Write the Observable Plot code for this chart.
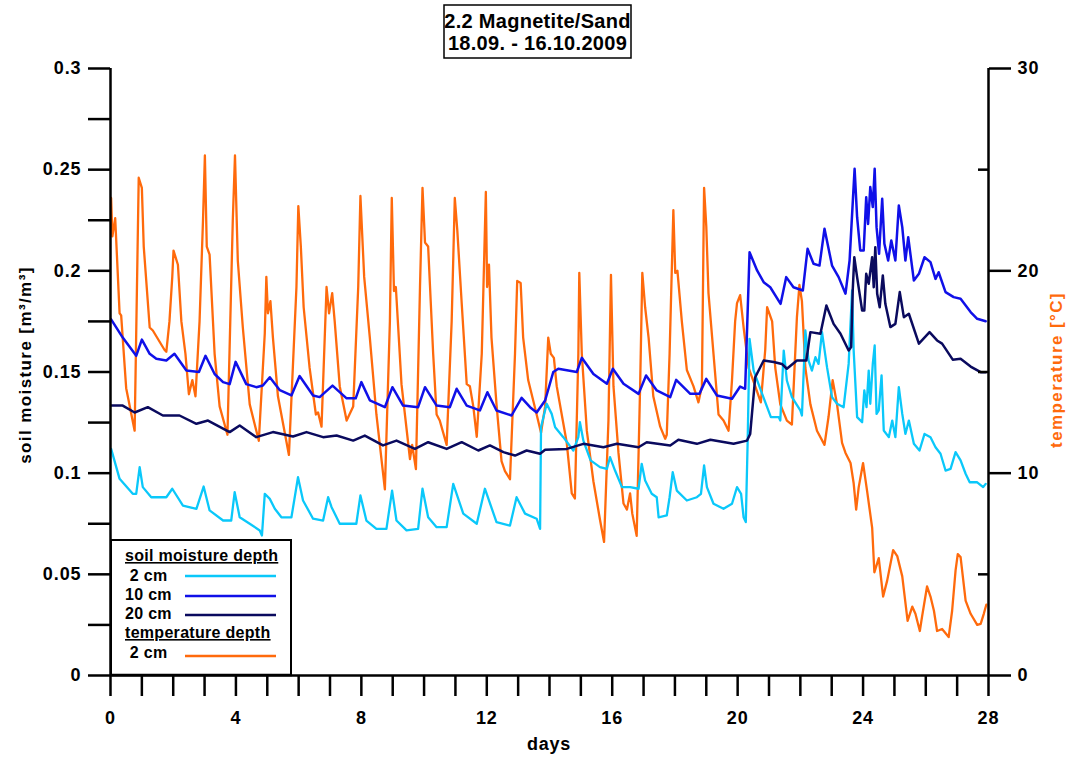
<!DOCTYPE html>
<html><head><meta charset="utf-8">
<script src="https://cdn.jsdelivr.net/npm/d3@7"></script>
<script src="https://cdn.jsdelivr.net/npm/@observablehq/plot@0.6"></script>
<style>
html,body{margin:0;padding:0;background:#fff;overflow:hidden;}
#wrap{position:relative;width:1072px;height:758px;font-family:"Liberation Sans",Arial,sans-serif;}
#wrap svg text{letter-spacing:0.9px;}
#overlay{position:absolute;left:0;top:0;pointer-events:none;}
</style></head><body><div id="wrap"></div>
<script>
// ---- data (day, value) ----
const temp2cm = [[0.02,23.6],[0.06,21.7],[0.15,22.6],[0.29,17.9],[0.34,17.8],[0.50,14.2],[0.77,12.1],[0.90,24.6],[1.00,24.1],[1.06,21.2],[1.25,17.2],[1.35,17.05],[1.72,16.1],[1.78,16.0],[1.88,17.5],[1.97,19.7],[2.01,21.0],[2.15,20.3],[2.26,17.5],[2.39,15.9],[2.50,13.9],[2.61,14.6],[2.71,13.8],[2.84,17.5],[2.95,22.5],[3.01,25.7],[3.07,21.2],[3.16,20.8],[3.32,15.9],[3.48,13.3],[3.73,11.9],[3.90,22.5],[3.97,25.7],[4.06,20.5],[4.22,17.2],[4.44,13.4],[4.73,11.6],[4.92,16.9],[4.97,19.7],[5.02,17.9],[5.10,18.5],[5.18,16.7],[5.34,13.8],[5.69,10.9],[5.93,19.2],[5.99,23.2],[6.07,21.2],[6.16,18.2],[6.35,15.2],[6.55,12.9],[6.62,13.0],[6.73,12.3],[6.89,19.2],[6.97,17.9],[7.07,18.9],[7.15,17.5],[7.31,14.3],[7.53,12.6],[7.74,13.3],[7.90,19.2],[7.97,23.7],[8.09,19.7],[8.27,16.7],[8.48,12.9],[8.75,9.2],[8.91,17.5],[8.97,23.6],[9.04,19.0],[9.10,19.2],[9.28,14.4],[9.55,10.7],[9.62,11.4],[9.74,10.2],[9.87,19.2],[9.95,24.1],[10.03,21.4],[10.13,21.2],[10.29,15.9],[10.40,12.9],[10.50,12.6],[10.72,11.4],[10.88,17.5],[10.98,23.6],[11.06,22.0],[11.20,18.4],[11.36,14.4],[11.46,14.3],[11.57,13.3],[11.68,11.8],[11.84,15.9],[11.97,23.9],[12.01,19.2],[12.07,20.3],[12.15,16.7],[12.31,13.4],[12.47,10.6],[12.58,10.1],[12.74,9.7],[12.90,15.9],[12.97,19.5],[13.08,19.4],[13.16,16.7],[13.32,14.6],[13.59,12.9],[13.73,12.0],[13.86,13.3],[13.96,16.7],[14.04,15.9],[14.14,15.7],[14.23,14.3],[14.39,12.9],[14.55,11.5],[14.71,9.0],[14.81,8.75],[14.92,15.9],[14.95,19.9],[15.03,15.9],[15.19,12.1],[15.40,9.6],[15.61,7.7],[15.74,6.6],[15.88,12.6],[15.96,19.8],[16.04,14.3],[16.20,11.0],[16.36,8.5],[16.47,8.2],[16.57,9.0],[16.64,8.0],[16.78,6.9],[16.89,14.3],[16.96,19.9],[17.05,18.2],[17.16,16.7],[17.31,13.8],[17.53,12.3],[17.69,11.7],[17.74,11.9],[17.83,15.9],[17.95,23.0],[18.01,19.9],[18.08,20.0],[18.22,17.5],[18.38,15.1],[18.59,14.3],[18.75,13.5],[18.86,14.3],[18.93,24.1],[19.00,22.2],[19.07,18.9],[19.23,15.9],[19.39,12.9],[19.55,12.6],[19.71,12.1],[19.82,14.6],[19.92,17.5],[19.98,18.4],[20.08,18.8],[20.19,17.2],[20.35,15.2],[20.56,14.3],[20.74,13.5],[20.88,16.1],[20.94,18.2],[21.10,17.5],[21.20,15.2],[21.36,13.4],[21.57,12.6],[21.73,12.4],[21.89,17.7],[21.97,19.3],[22.05,18.5],[22.16,15.2],[22.32,13.4],[22.53,12.1],[22.77,11.4],[22.90,12.8],[23.03,14.6],[23.17,13.4],[23.33,11.5],[23.44,11.0],[23.60,10.5],[23.70,9.5],[23.78,8.2],[23.86,9.3],[24.00,10.5],[24.13,9.1],[24.29,7.3],[24.36,5.1],[24.50,5.8],[24.64,3.9],[24.77,4.7],[24.96,6.2],[25.09,5.9],[25.25,4.9],[25.42,2.7],[25.57,3.4],[25.67,3.05],[25.81,2.2],[25.88,2.9],[26.04,4.4],[26.15,3.9],[26.26,3.2],[26.36,2.2],[26.52,2.3],[26.73,1.9],[26.84,3.2],[26.95,5.2],[27.02,6.0],[27.11,5.85],[27.27,3.7],[27.43,3.05],[27.64,2.5],[27.75,2.55],[27.85,3.05],[27.93,3.5]];

const moist2cm = [[0.02,0.112],[0.29,0.0972],[0.71,0.0898],[0.82,0.0898],[0.93,0.103],[1.03,0.0931],[1.30,0.0881],[1.78,0.0881],[1.97,0.0923],[2.31,0.084],[2.74,0.0824],[2.97,0.0934],[3.16,0.0816],[3.59,0.0766],[3.85,0.0766],[3.96,0.0906],[4.12,0.0782],[4.44,0.075],[4.76,0.0717],[4.83,0.0692],[4.92,0.0898],[5.08,0.0873],[5.24,0.0824],[5.45,0.0782],[5.77,0.0782],[5.98,0.098],[6.14,0.0865],[6.46,0.0775],[6.78,0.0766],[6.94,0.0881],[7.05,0.0832],[7.31,0.075],[7.84,0.075],[7.97,0.089],[8.16,0.0766],[8.48,0.0725],[8.80,0.0725],[8.98,0.0914],[9.12,0.0766],[9.44,0.0717],[9.81,0.0725],[9.95,0.0923],[10.13,0.0782],[10.40,0.0733],[10.72,0.0733],[10.93,0.0947],[11.25,0.080],[11.68,0.075],[11.94,0.0923],[12.31,0.0758],[12.74,0.0741],[12.95,0.0881],[13.22,0.080],[13.59,0.0775],[13.70,0.0725],[13.73,0.1227],[13.91,0.1343],[14.07,0.1293],[14.18,0.1227],[14.44,0.1178],[14.76,0.1112],[14.92,0.1178],[14.97,0.1252],[15.08,0.1161],[15.31,0.1063],[15.61,0.103],[15.83,0.1021],[15.93,0.1079],[16.09,0.1013],[16.31,0.0931],[16.57,0.0931],[16.84,0.0923],[16.94,0.1046],[17.05,0.0964],[17.26,0.0898],[17.42,0.0881],[17.48,0.0782],[17.74,0.0791],[17.83,0.0881],[17.93,0.1005],[18.06,0.0914],[18.38,0.0865],[18.70,0.0881],[18.83,0.0898],[18.93,0.1038],[19.02,0.0931],[19.23,0.0849],[19.55,0.0824],[19.82,0.0849],[19.98,0.0931],[20.11,0.0898],[20.19,0.0782],[20.26,0.0758],[20.32,0.1161],[20.38,0.1664],[20.51,0.1507],[20.74,0.1409],[21.06,0.1277],[21.31,0.1277],[21.36,0.126],[21.47,0.1606],[21.57,0.1458],[21.73,0.1376],[22.00,0.131],[22.05,0.1285],[22.16,0.1705],[22.26,0.1557],[22.37,0.1507],[22.48,0.1573],[22.58,0.154],[22.69,0.1697],[22.85,0.1524],[23.01,0.1376],[23.17,0.1343],[23.38,0.1326],[23.54,0.154],[23.65,0.1903],[23.70,0.1606],[23.81,0.1277],[23.97,0.1252],[24.04,0.1409],[24.11,0.1326],[24.18,0.1507],[24.23,0.1343],[24.31,0.154],[24.37,0.1631],[24.43,0.1293],[24.50,0.131],[24.59,0.1483],[24.66,0.1211],[24.82,0.1178],[24.93,0.126],[25.03,0.1178],[25.14,0.1425],[25.25,0.1293],[25.35,0.1194],[25.46,0.126],[25.62,0.1145],[25.80,0.1112],[25.96,0.1194],[26.15,0.1178],[26.31,0.1128],[26.47,0.1096],[26.63,0.1013],[26.79,0.1021],[26.95,0.1104],[27.11,0.1063],[27.27,0.0997],[27.40,0.0955],[27.64,0.0955],[27.83,0.0931],[27.91,0.0947]];

const moist10cm = [[0.02,0.176],[0.39,0.167],[0.82,0.158],[1.00,0.166],[1.25,0.159],[1.46,0.1565],[1.78,0.1557],[2.04,0.159],[2.42,0.1507],[2.82,0.150],[3.03,0.158],[3.32,0.149],[3.59,0.145],[3.80,0.144],[3.99,0.155],[4.33,0.144],[4.65,0.1425],[4.86,0.1433],[5.08,0.1474],[5.40,0.141],[5.77,0.1384],[6.03,0.148],[6.46,0.1384],[6.67,0.1376],[7.08,0.1433],[7.53,0.137],[7.82,0.137],[8.00,0.145],[8.27,0.136],[8.75,0.1326],[8.99,0.1425],[9.33,0.1334],[9.81,0.1326],[10.03,0.1425],[10.40,0.1334],[10.82,0.1326],[11.04,0.1417],[11.36,0.1334],[11.78,0.131],[12.02,0.140],[12.31,0.131],[12.79,0.1285],[13.11,0.1372],[13.38,0.1326],[13.59,0.130],[13.86,0.1359],[14.12,0.150],[14.28,0.1516],[14.87,0.150],[15.03,0.157],[15.40,0.149],[15.83,0.1442],[16.02,0.1516],[16.36,0.1442],[16.84,0.1392],[17.08,0.1483],[17.42,0.1409],[17.85,0.1376],[18.04,0.1461],[18.49,0.1392],[18.78,0.1392],[19.00,0.1466],[19.34,0.1384],[19.82,0.1368],[20.08,0.1428],[20.24,0.1417],[20.38,0.2092],[20.62,0.2002],[20.83,0.1944],[21.04,0.1919],[21.37,0.1837],[21.55,0.1969],[21.78,0.1919],[22.08,0.1903],[22.23,0.2109],[22.42,0.2035],[22.61,0.2026],[22.77,0.2208],[23.01,0.2026],[23.22,0.1969],[23.44,0.1887],[23.57,0.2051],[23.68,0.2364],[23.73,0.2504],[23.81,0.2265],[23.91,0.2101],[24.02,0.2101],[24.10,0.2364],[24.16,0.2232],[24.23,0.2414],[24.31,0.2315],[24.37,0.2504],[24.43,0.2216],[24.51,0.2084],[24.61,0.2356],[24.68,0.2134],[24.80,0.2051],[24.90,0.215],[25.03,0.2051],[25.14,0.2323],[25.25,0.2216],[25.35,0.2051],[25.44,0.2166],[25.62,0.1952],[25.78,0.1985],[25.96,0.2067],[26.15,0.2043],[26.31,0.196],[26.41,0.1993],[26.63,0.1895],[26.89,0.187],[27.11,0.1862],[27.43,0.1796],[27.64,0.1763],[27.91,0.1751]];

const moist20cm = [[0.02,0.1334],[0.39,0.1334],[0.77,0.130],[1.19,0.1326],[1.67,0.1285],[2.20,0.1285],[2.74,0.1244],[3.11,0.126],[3.80,0.1203],[4.12,0.1236],[4.65,0.1178],[5.18,0.1203],[5.82,0.1181],[6.25,0.1203],[6.78,0.1178],[7.21,0.1186],[7.74,0.1161],[8.11,0.1186],[8.69,0.1137],[9.12,0.1161],[9.71,0.112],[10.13,0.1153],[10.72,0.112],[11.20,0.1153],[11.73,0.1112],[12.10,0.1137],[12.53,0.1104],[12.90,0.1087],[13.27,0.1112],[13.70,0.1096],[13.86,0.1116],[14.55,0.112],[15.08,0.1145],[15.72,0.1128],[16.15,0.1145],[16.84,0.1128],[17.10,0.1153],[17.85,0.1137],[18.11,0.1165],[18.70,0.1145],[19.13,0.1165],[19.87,0.1145],[20.30,0.1161],[20.40,0.1194],[20.56,0.1474],[20.83,0.1557],[21.15,0.1549],[21.41,0.154],[21.57,0.1516],[21.89,0.1557],[22.19,0.1557],[22.32,0.1697],[22.64,0.1689],[22.83,0.1829],[23.06,0.1738],[23.28,0.1689],[23.54,0.1606],[23.62,0.1623],[23.67,0.1903],[23.72,0.2067],[23.81,0.1969],[23.97,0.1804],[24.04,0.1804],[24.10,0.1985],[24.18,0.1936],[24.29,0.2067],[24.34,0.1919],[24.39,0.2117],[24.45,0.1887],[24.53,0.182],[24.63,0.1977],[24.71,0.1837],[24.87,0.1722],[25.03,0.1738],[25.17,0.1895],[25.30,0.1771],[25.46,0.1788],[25.78,0.164],[26.12,0.1697],[26.36,0.1656],[26.52,0.164],[26.86,0.1561],[27.11,0.1565],[27.43,0.1527],[27.75,0.1499],[27.91,0.1499]];

// ---- axes / ticks ----
const moistureTicks = [0, 0.05, 0.1, 0.15, 0.2, 0.25, 0.3];
const moistureMinor = [0.025, 0.075, 0.125, 0.175, 0.225, 0.275];
const tempTicks = [0, 10, 20, 30];
const tempMinor = [5, 15, 25];
const dayTicks = [0, 4, 8, 12, 16, 20, 24, 28];
const dayMinor = d3.range(0, 29).filter(d => d % 4 !== 0);
const tempToMoisture = 0.01; // 30 °C on right axis aligns with 0.3 m³/m³

const colors = {c2: "#0ac8fa", c10: "#1010e8", c20: "#0a0a5e", temp: "#ff6a0c"};

const font = "Liberation Sans, Arial, sans-serif";
const chart = Plot.plot({
  width: 1072, height: 758,
  marginLeft: 110, marginRight: 84, marginTop: 68, marginBottom: 83,
  style: {fontFamily: font, fontSize: "18px", fontWeight: "bold", color: "#000", background: "#fff"},
  x: {domain: [0, 28]},
  y: {domain: [0, 0.3]},
  marks: [
    Plot.line(temp2cm, {x: d => d[0], y: d => d[1] * tempToMoisture, stroke: colors.temp, strokeWidth: 2.3}),
    Plot.line(moist2cm, {x: d => d[0], y: d => d[1], stroke: colors.c2, strokeWidth: 2.3}),
    Plot.line(moist10cm, {x: d => d[0], y: d => d[1], stroke: colors.c10, strokeWidth: 2.5}),
    Plot.line(moist20cm, {x: d => d[0], y: d => d[1], stroke: colors.c20, strokeWidth: 2.5}),
    Plot.ruleX([0], {stroke: "#000", strokeWidth: 2.5}),
    Plot.ruleX([28], {stroke: "#000", strokeWidth: 2.5}),
    Plot.ruleY([0], {stroke: "#000", strokeWidth: 2.5}),
    Plot.axisY(moistureTicks, {anchor: "left", tickSize: 22, tickPadding: 7, strokeWidth: 2.5, label: null, tickFormat: d => String(d)}),
    Plot.axisY(moistureMinor, {anchor: "left", tickSize: 22, strokeWidth: 2.5, text: null, label: null}),
    Plot.axisY(tempTicks.map(t => t * tempToMoisture), {anchor: "right", tickSize: 22, tickPadding: 7, strokeWidth: 2.5, label: null, tickFormat: d => String(Math.round(d / tempToMoisture))}),
    Plot.axisY(tempMinor.map(t => t * tempToMoisture), {anchor: "right", tickSize: -11, strokeWidth: 2.5, text: null, label: null}),
    Plot.axisX(dayTicks, {tickSize: 21, tickPadding: 15, strokeWidth: 2.5, label: null}),
    Plot.axisX(dayMinor, {tickSize: 21, strokeWidth: 2.5, text: null, label: null})
  ]
});
const wrap = document.getElementById("wrap");
wrap.appendChild(chart);

// ---- annotations: title, axis titles, legend ----
const legendEntries = [
  {type: "head", text: "soil moisture depth", y: 561},
  {type: "item", text: "\u00a02 cm", y: 581, ly: 576, color: colors.c2},
  {type: "item", text: "10 cm", y: 600, ly: 596, color: colors.c10},
  {type: "item", text: "20 cm", y: 619, ly: 615, color: colors.c20},
  {type: "head", text: "temperature depth", y: 638},
  {type: "item", text: "\u00a02 cm", y: 658, ly: 656, color: colors.temp}
];
const ov = d3.select(wrap).append("svg").attr("id", "overlay")
  .attr("width", 1072).attr("height", 758)
  .style("font-family", font).style("font-weight", "bold");
ov.append("rect").attr("x", 444).attr("y", 5).attr("width", 187).attr("height", 53)
  .attr("fill", "#fff").attr("stroke", "#000").attr("stroke-width", 1.5);
ov.append("text").attr("x", 537.5).attr("y", 28).attr("text-anchor", "middle").attr("font-size", 20).style("letter-spacing", "0.3px").text("2.2 Magnetite/Sand");
ov.append("text").attr("x", 537.5).attr("y", 50).attr("text-anchor", "middle").attr("font-size", 20).style("letter-spacing", "0.3px").text("18.09. - 16.10.2009");
ov.append("text").attr("transform", "translate(31,365) rotate(-90)").attr("text-anchor", "middle")
  .attr("font-size", 17).style("letter-spacing", "1.4px").text("soil moisture [m\u00b3/m\u00b3]");
ov.append("text").attr("transform", "translate(1062,370) rotate(-90)").attr("text-anchor", "middle")
  .attr("font-size", 17).style("letter-spacing", "1.4px").attr("fill", colors.temp).text("temperature [\u00b0C]");
ov.append("text").attr("x", 549).attr("y", 750).attr("text-anchor", "middle").attr("font-size", 18).style("letter-spacing", "0.8px").text("days");

ov.append("rect").attr("x", 111).attr("y", 540).attr("width", 180).attr("height", 135)
  .attr("fill", "#fff").attr("stroke", "#000").attr("stroke-width", 2);
for (const e of legendEntries) {
  const t = ov.append("text").attr("x", 125).attr("y", e.y).attr("font-size", 16).style("letter-spacing", "0.3px").text(e.text);
  if (e.type === "head") {
    t.attr("text-decoration", "underline");
  } else {
    ov.append("line").attr("x1", 185).attr("x2", 276).attr("y1", e.ly).attr("y2", e.ly)
      .attr("stroke", e.color).attr("stroke-width", 2.3);
  }
}
ov.append("line").attr("x1", 110).attr("x2", 292).attr("y1", 675).attr("y2", 675).attr("stroke", "#000").attr("stroke-width", 2.5);
</script>
</body></html>
